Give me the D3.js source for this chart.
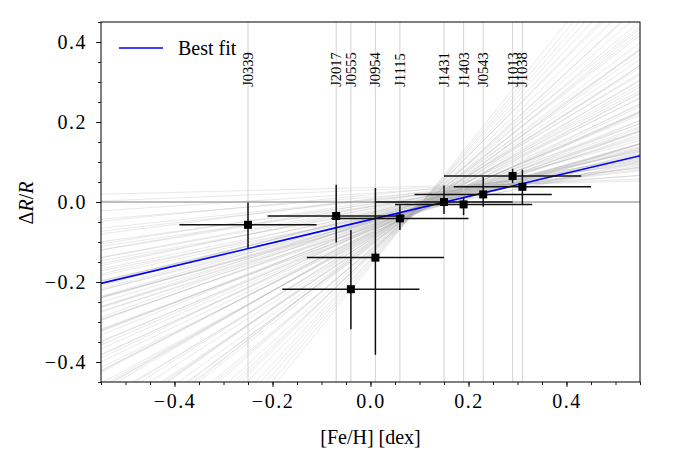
<!DOCTYPE html>
<html lang="en">
<head>
    <meta charset="UTF-8">
    <title>Radius offset vs metallicity</title>
    <script src="https://d3js.org/d3.v7.min.js"></script>
    <style>
        body { margin: 0; background: #fff; }
        svg, svg text { font-family: "Times New Roman", "Liberation Serif", "DejaVu Serif", serif !important; }
    </style>
</head>
<body>
    <div id="chart"></div>
    <script>
        // stars, [Fe/H] and dR/R with errors
        const stars = ["J0339", "J2017", "J0555", "J0954", "J1115", "J1431", "J1403", "J0543", "J1013", "J1038"];
        const feh = [-0.25, -0.07, -0.04, 0.01, 0.06, 0.15, 0.19, 0.23, 0.29, 0.31];
        const fehErr = [0.14, 0.14, 0.14, 0.14, 0.14, 0.14, 0.14, 0.14, 0.14, 0.14];
        const dR = [-0.057, -0.035, -0.218, -0.139, -0.041, 0.0, -0.006, 0.019, 0.065, 0.038];
        const dRErrLo = [0.058, 0.066, 0.10, 0.243, 0.029, 0.03, 0.027, 0.031, 0.018, 0.045];
        const dRErrHi = [0.056, 0.078, 0.148, 0.174, 0.033, 0.041, 0.019, 0.044, 0.018, 0.043];

        // best fit and posterior draws (slope, intercept)
        const bestSlope = 0.29;
        const bestIntercept = -0.044;
        const drawSlopes = [0.03, 0.05, 0.08, 0.10, 0.12, 0.14, 0.16, 0.17, 0.19, 0.20, 0.21, 0.22, 0.23, 0.24, 0.25,
            0.26, 0.27, 0.28, 0.29, 0.30, 0.31, 0.32, 0.33, 0.34, 0.35, 0.36, 0.37, 0.39, 0.40, 0.42, 0.44, 0.46,
            0.48, 0.50, 0.52, 0.55, 0.57, 0.60, 0.63, 0.66, 0.70, 0.73, 0.77, 0.81, 0.85, 0.90, 0.95, 1.01, 1.07,
            1.14, 1.22, 1.31, 1.41, 1.52, 0.27, 0.33, 0.38, 0.45, 0.58, 0.68, 0.24, 0.31, 0.35, 0.43, 0.53,
            0.62, 0.75, 0.88, 0.97, 1.12, 1.25, 1.36, 0.54, 0.47, 0.69, 0.79, 0.92, 1.04, 1.18, 0.41, 0.36, 0.29,
            0.22, 0.18, 0.13, 0.83, 0.64, 0.50, 1.46, 0.72, 0.59, 0.98, 0.86, 0.44, 0.32];
        const drawIntercepts = [0.036, 0.030, 0.022, 0.012, 0.018, 0.004, 0.008, -0.006, 0.000, -0.010, -0.004, -0.018,
            -0.012, -0.022, -0.030, -0.016, -0.036, -0.026, -0.044, -0.034, -0.050, -0.040, -0.028, -0.052, -0.046,
            -0.038, -0.058, -0.050, -0.042, -0.062, -0.054, -0.068, -0.060, -0.072, -0.064, -0.078, -0.070, -0.084,
            -0.076, -0.090, -0.082, -0.096, -0.088, -0.104, -0.098, -0.112, -0.106, -0.122, -0.118, -0.132, -0.128,
            -0.142, -0.150, -0.160, -0.048, -0.056, -0.064, -0.070, -0.080, -0.086, -0.040, -0.032, -0.048, -0.058, -0.066,
            -0.080, -0.090, -0.105, -0.110, -0.125, -0.135, -0.145, -0.070, -0.062, -0.085, -0.094, -0.108, -0.120,
            -0.130, -0.050, -0.052, -0.038, -0.026, -0.012, 0.006, -0.100, -0.074, -0.058, -0.155, -0.078, -0.066,
            -0.100, -0.092, -0.046, -0.044];

        const xTicks = [-0.4, -0.2, 0.0, 0.2, 0.4];
        const yTicks = [-0.4, -0.2, 0.0, 0.2, 0.4];

        const w = 675;
        const h = 450;
        const margin = { left: 101, right: 35, top: 22, bottom: 68 };
        const fontSize = 20;

        const x = d3.scaleLinear().domain([-0.55, 0.55]).range([margin.left, w - margin.right]);
        const y = d3.scaleLinear().domain([-0.45, 0.45]).range([h - margin.bottom, margin.top]);
        const fmt = v => d3.format(".1f")(v).replace("-", "\u2212");

        const svg = d3.select("#chart")
            .append("svg")
            .attr("width", w)
            .attr("height", h);

        svg.append("clipPath")
            .attr("id", "plot-clip")
            .append("rect")
            .attr("x", margin.left)
            .attr("y", margin.top)
            .attr("width", x.range()[1] - x.range()[0])
            .attr("height", y.range()[0] - y.range()[1]);

        const plot = svg.append("g").attr("clip-path", "url(#plot-clip)");
        const [x0, x1] = x.domain();

        // posterior draws
        plot.selectAll("line.draw")
            .data(drawSlopes.map((s, i) => ({ s, b: drawIntercepts[i] })))
            .join("line")
            .attr("class", "draw")
            .attr("x1", x(x0))
            .attr("x2", x(x1))
            .attr("y1", d => y(d.b + d.s * x0))
            .attr("y2", d => y(d.b + d.s * x1))
            .attr("stroke", "#a8a8a8")
            .attr("stroke-opacity", 0.5)
            .attr("stroke-width", 0.5);

        // star markers
        plot.selectAll("line.star")
            .data(feh)
            .join("line")
            .attr("class", "star")
            .attr("x1", d => x(d))
            .attr("x2", d => x(d))
            .attr("y1", y.range()[0])
            .attr("y2", y.range()[1])
            .attr("stroke", "#c8c8c8")
            .attr("stroke-width", 0.8);

        svg.selectAll("text.star")
            .data(stars)
            .join("text")
            .attr("class", "star")
            .attr("transform", (d, i) => `translate(${x(feh[i])},${y(0.288)}) rotate(-90)`)
            .attr("dominant-baseline", "central")
            .attr("font-size", 14.5)
            .text(d => d);

        // zero line
        plot.append("line")
            .attr("x1", x(x0))
            .attr("x2", x(x1))
            .attr("y1", y(0))
            .attr("y2", y(0))
            .attr("stroke", "#707070")
            .attr("stroke-width", 0.9);

        // best fit
        plot.append("line")
            .attr("x1", x(x0))
            .attr("x2", x(x1))
            .attr("y1", y(bestIntercept + bestSlope * x0))
            .attr("y2", y(bestIntercept + bestSlope * x1))
            .attr("stroke", "blue")
            .attr("stroke-width", 1.6);

        // error bars
        const pts = feh.map((f, i) => ({ f, r: dR[i], fe: fehErr[i], lo: dRErrLo[i], hi: dRErrHi[i] }));
        const eb = plot.selectAll("g.pt").data(pts).join("g").attr("class", "pt");
        eb.append("line")
            .attr("x1", d => x(d.f - d.fe))
            .attr("x2", d => x(d.f + d.fe))
            .attr("y1", d => y(d.r))
            .attr("y2", d => y(d.r))
            .attr("stroke", "#111")
            .attr("stroke-width", 1.5);
        eb.append("line")
            .attr("x1", d => x(d.f))
            .attr("x2", d => x(d.f))
            .attr("y1", d => y(d.r - d.lo))
            .attr("y2", d => y(d.r + d.hi))
            .attr("stroke", "#111")
            .attr("stroke-width", 1.5);
        eb.append("rect")
            .attr("x", d => x(d.f) - 4)
            .attr("y", d => y(d.r) - 4)
            .attr("width", 8)
            .attr("height", 8)
            .attr("fill", "#000");

        // axes
        const xAxis = d3.axisBottom(x).tickValues(xTicks).tickFormat(fmt).tickSize(5).tickPadding(7);
        const xMinor = d3.axisBottom(x).tickValues(d3.range(-0.55, 0.5501, 0.05)).tickFormat("").tickSize(3);
        const yAxis = d3.axisLeft(y).tickValues(yTicks).tickFormat(fmt).tickSize(5).tickPadding(9);
        const yMinor = d3.axisLeft(y).tickValues(d3.range(-0.45, 0.4501, 0.05)).tickFormat("").tickSize(3);

        [xAxis, xMinor].forEach(a => {
            svg.append("g")
                .attr("transform", `translate(0,${y.range()[0]})`)
                .call(a)
                .call(g => g.select(".domain").remove());
        });
        [yAxis, yMinor].forEach(a => {
            svg.append("g")
                .attr("transform", `translate(${margin.left},0)`)
                .call(a)
                .call(g => g.select(".domain").remove());
        });
        svg.selectAll(".tick text")
            .attr("font-size", fontSize)
            .attr("letter-spacing", 1.5)
            .attr("fill", "#000");
        svg.selectAll(".tick line").attr("stroke", "#000").attr("stroke-width", 0.9);

        // frame
        svg.append("rect")
            .attr("x", margin.left)
            .attr("y", margin.top)
            .attr("width", x.range()[1] - x.range()[0])
            .attr("height", y.range()[0] - y.range()[1])
            .attr("fill", "none")
            .attr("stroke", "#000")
            .attr("stroke-width", 1);

        // axis labels
        svg.append("text")
            .attr("x", (x.range()[0] + x.range()[1]) / 2)
            .attr("y", 444)
            .attr("text-anchor", "middle")
            .attr("font-size", fontSize)
            .text("[Fe/H] [dex]");

        const yl = svg.append("text")
            .attr("transform", `translate(33,${y(0) + 1}) rotate(-90)`)
            .attr("text-anchor", "middle")
            .attr("font-size", fontSize);
        yl.append("tspan").text("\u0394");
        yl.append("tspan").attr("font-style", "italic").text("R");
        yl.append("tspan").text("/");
        yl.append("tspan").attr("font-style", "italic").text("R");

        // legend
        svg.append("line")
            .attr("x1", 119)
            .attr("x2", 163)
            .attr("y1", 48)
            .attr("y2", 48)
            .attr("stroke", "blue")
            .attr("stroke-width", 1.6);
        svg.append("text")
            .attr("x", 178)
            .attr("y", 55)
            .attr("font-size", fontSize)
            .text("Best fit");
    </script>
</body>
</html>
